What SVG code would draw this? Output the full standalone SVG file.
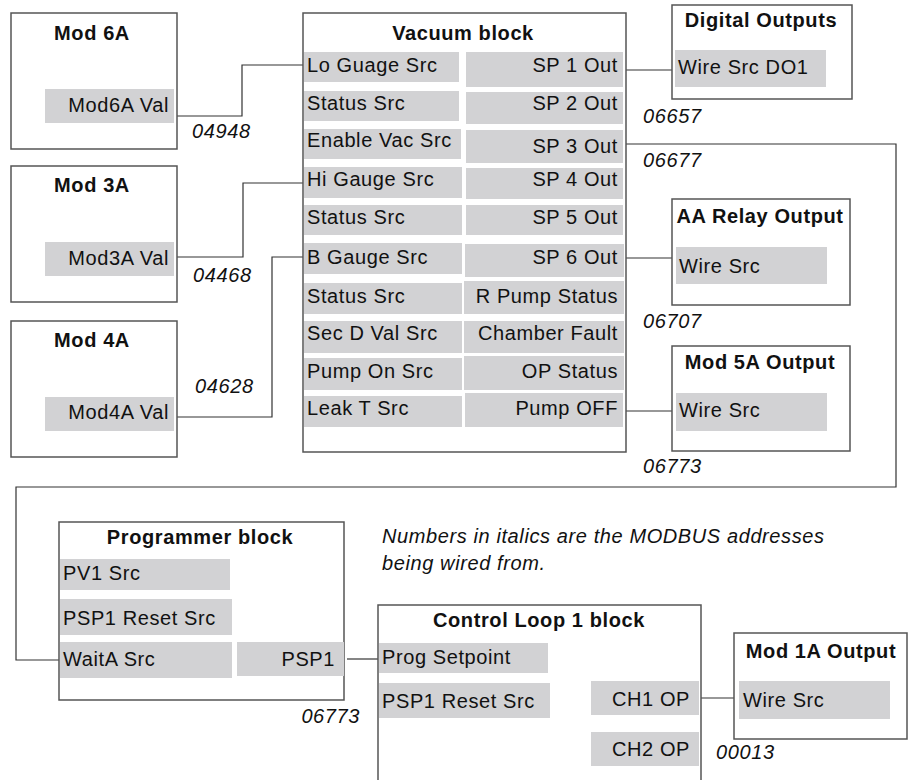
<svg xmlns="http://www.w3.org/2000/svg" width="910" height="780" viewBox="0 0 910 780">
<style>
.box{fill:#fff;stroke:#555;stroke-width:1.5}
.cell{fill:#d2d2d4}
.t{font-family:"Liberation Sans",Arial,sans-serif;font-size:20px;letter-spacing:0.6px;fill:#111}
.h{font-family:"Liberation Sans",Arial,sans-serif;font-size:20px;letter-spacing:0.6px;font-weight:bold;fill:#111;text-anchor:middle}
.r{text-anchor:end}
.i{font-family:"Liberation Sans",Arial,sans-serif;font-size:20px;letter-spacing:0.6px;font-style:italic;fill:#111}
.w{fill:none;stroke:#333;stroke-width:1.2}
</style>
<rect width="910" height="780" fill="#fff"/>

<g id="connectors">
<polyline class="w" points="177,116 242,116 242,65 303,65"/>
<polyline class="w" points="177,257 243,257 243,183 303,183"/>
<polyline class="w" points="177,417 272,417 272,257 303,257"/>
<polyline class="w" points="626,70 672,70"/>
<polyline class="w" points="626,144 896,144 896,487 16,487 16,660 60,660"/>
<polyline class="w" points="626,258 672,258"/>
<polyline class="w" points="626,411 672,411"/>
<polyline class="w" points="347,659 378,659"/>
<polyline class="w" points="701,698 734,698"/>
</g>

<g id="labels">
<text class="i" x="192" y="138">04948</text>
<text class="i" x="193" y="282">04468</text>
<text class="i" x="195" y="393">04628</text>
<text class="i" x="643" y="123">06657</text>
<text class="i" x="643" y="167">06677</text>
<text class="i" x="643" y="328">06707</text>
<text class="i" x="643" y="473">06773</text>
<text class="i r" x="360" y="723">06773</text>
<text class="i" x="716" y="759">00013</text>
<text class="i" x="382" y="543">Numbers in italics are the MODBUS addresses</text>
<text class="i" x="382" y="570">being wired from.</text>
</g>

<g id="mod6a">
<rect class="box" x="11" y="13" width="166" height="136"/>
<text class="h" x="92" y="40">Mod 6A</text>
<rect class="cell" x="45" y="89" width="129" height="34"/>
<text class="t r" x="169" y="112">Mod6A Val</text>
</g>

<g id="mod3a">
<rect class="box" x="11" y="166" width="166" height="136"/>
<text class="h" x="92" y="192">Mod 3A</text>
<rect class="cell" x="45" y="242" width="129" height="34"/>
<text class="t r" x="169" y="265">Mod3A Val</text>
</g>

<g id="mod4a">
<rect class="box" x="11" y="321" width="166" height="136"/>
<text class="h" x="92" y="347">Mod 4A</text>
<rect class="cell" x="45" y="397" width="129" height="34"/>
<text class="t r" x="169" y="419">Mod4A Val</text>
</g>

<g id="vacuum">
<rect class="box" x="303" y="13" width="323" height="439"/>
<text class="h" x="463" y="40">Vacuum block</text>
<rect class="cell" x="304" y="52" width="155" height="30"/>
<rect class="cell" x="304" y="91" width="155" height="30"/>
<rect class="cell" x="304" y="129" width="157" height="30"/>
<rect class="cell" x="304" y="167" width="158" height="31"/>
<rect class="cell" x="304" y="205" width="158" height="30"/>
<rect class="cell" x="304" y="243" width="158" height="31"/>
<rect class="cell" x="304" y="283" width="158" height="31"/>
<rect class="cell" x="304" y="321" width="158" height="32"/>
<rect class="cell" x="304" y="358" width="158" height="32"/>
<rect class="cell" x="304" y="396" width="158" height="31"/>
<text class="t" x="307" y="72">Lo Guage Src</text>
<text class="t" x="307" y="110">Status Src</text>
<text class="t" x="307" y="147">Enable Vac Src</text>
<text class="t" x="307" y="186">Hi Gauge Src</text>
<text class="t" x="307" y="224">Status Src</text>
<text class="t" x="307" y="264">B Gauge Src</text>
<text class="t" x="307" y="303">Status Src</text>
<text class="t" x="307" y="340">Sec D Val Src</text>
<text class="t" x="307" y="378">Pump On Src</text>
<text class="t" x="307" y="415">Leak T Src</text>
<rect class="cell" x="466" y="52" width="157" height="35"/>
<rect class="cell" x="466" y="92" width="157" height="32"/>
<rect class="cell" x="466" y="130" width="157" height="33"/>
<rect class="cell" x="466" y="168" width="157" height="31"/>
<rect class="cell" x="466" y="205" width="157" height="30"/>
<rect class="cell" x="465" y="244" width="159" height="33"/>
<rect class="cell" x="464" y="281" width="160" height="33"/>
<rect class="cell" x="464" y="321" width="160" height="32"/>
<rect class="cell" x="464" y="356" width="160" height="34"/>
<rect class="cell" x="465" y="393" width="158" height="34"/>
<text class="t r" x="618" y="72">SP 1 Out</text>
<text class="t r" x="618" y="110">SP 2 Out</text>
<text class="t r" x="618" y="153">SP 3 Out</text>
<text class="t r" x="618" y="186">SP 4 Out</text>
<text class="t r" x="618" y="224">SP 5 Out</text>
<text class="t r" x="618" y="264">SP 6 Out</text>
<text class="t r" x="618" y="303">R Pump Status</text>
<text class="t r" x="618" y="340">Chamber Fault</text>
<text class="t r" x="618" y="378">OP Status</text>
<text class="t r" x="618" y="415">Pump OFF</text>
</g>

<g id="digital-outputs">
<rect class="box" x="672" y="5" width="180" height="94"/>
<text class="h" x="761" y="27">Digital Outputs</text>
<rect class="cell" x="675" y="50" width="151" height="37"/>
<text class="t" x="678" y="74">Wire Src DO1</text>
</g>

<g id="aa-relay">
<rect class="box" x="672" y="199" width="178" height="106"/>
<text class="h" x="760" y="223">AA Relay Output</text>
<rect class="cell" x="676" y="247" width="151" height="37"/>
<text class="t" x="679" y="273">Wire Src</text>
</g>

<g id="mod5a">
<rect class="box" x="672" y="346" width="178" height="105"/>
<text class="h" x="760" y="369">Mod 5A Output</text>
<rect class="cell" x="676" y="393" width="151" height="38"/>
<text class="t" x="679" y="417">Wire Src</text>
</g>

<g id="programmer">
<rect class="box" x="59" y="522" width="285" height="178"/>
<text class="h" x="200" y="544">Programmer block</text>
<rect class="cell" x="60" y="559" width="170" height="31"/>
<rect class="cell" x="60" y="599" width="172" height="36"/>
<rect class="cell" x="60" y="642" width="172" height="36"/>
<rect class="cell" x="237" y="642" width="107" height="34"/>
<text class="t" x="63" y="580">PV1 Src</text>
<text class="t" x="63" y="625">PSP1 Reset Src</text>
<text class="t" x="63" y="666">WaitA Src</text>
<text class="t r" x="335" y="666">PSP1</text>
</g>

<g id="control-loop">
<rect class="box" x="378" y="605" width="323" height="200"/>
<text class="h" x="539" y="627">Control Loop 1 block</text>
<rect class="cell" x="379" y="643" width="169" height="30"/>
<rect class="cell" x="379" y="683" width="171" height="35"/>
<rect class="cell" x="591" y="681" width="108" height="34"/>
<rect class="cell" x="591" y="732" width="108" height="34"/>
<text class="t" x="382" y="664">Prog Setpoint</text>
<text class="t" x="382" y="708">PSP1 Reset Src</text>
<text class="t r" x="690" y="706">CH1 OP</text>
<text class="t r" x="690" y="756">CH2 OP</text>
</g>

<g id="mod1a">
<rect class="box" x="734" y="633" width="173" height="106"/>
<text class="h" x="821" y="658">Mod 1A Output</text>
<rect class="cell" x="739" y="681" width="151" height="38"/>
<text class="t" x="743" y="707">Wire Src</text>
</g>
</svg>
